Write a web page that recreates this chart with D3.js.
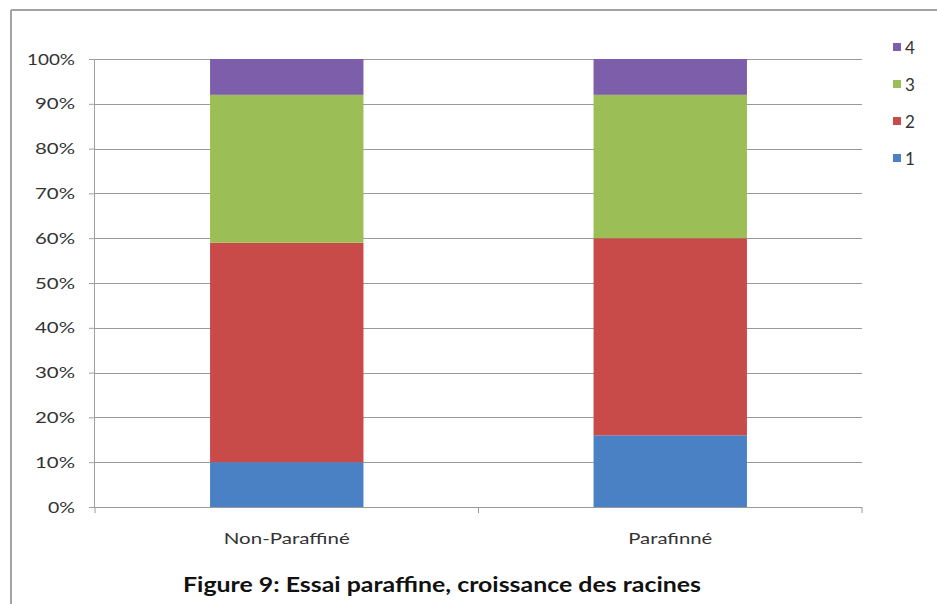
<!DOCTYPE html>
<html>
<head>
<meta charset="utf-8">
<script src="https://cdn.jsdelivr.net/npm/d3@7/dist/d3.min.js"></script>
<style>
  html, body { margin: 0; padding: 0; background: #fff; }
  svg { display: block; }
</style>
</head>
<body>
<svg id="chart" width="937" height="604"></svg>
<script>
// Root growth classes (1–4), share per treatment in percent
const categories = ["Non-Paraffiné", "Parafinné"];
const seriesNames = ["1", "2", "3", "4"];
const class1 = [10, 16];
const class2 = [49, 44];
const class3 = [33, 32];
const class4 = [8, 8];
const yTicks = [0, 10, 20, 30, 40, 50, 60, 70, 80, 90, 100];
const titleText = "Figure 9: Essai paraffine, croissance des racines";

const colors = ["#4A80C4", "#C84B4A", "#9BBE57", "#7D5EAA"];
const FONT = "Lato, 'Open Sans', sans-serif";

const svg = d3.select("#chart");
const W = 937, H = 604;
const margin = { left: 95, right: 75, top: 59, bottom: 97 };
const plotW = W - margin.left - margin.right;
const plotH = H - margin.top - margin.bottom;

// Outer frame (top and left edges visible)
svg.append("line").attr("x1", 11).attr("x2", W).attr("y1", 10).attr("y2", 10)
  .attr("stroke", "#a3a3a3").attr("stroke-width", 2);
svg.append("line").attr("x1", 11).attr("x2", 11).attr("y1", 10).attr("y2", H)
  .attr("stroke", "#a3a3a3").attr("stroke-width", 2);

const g = svg.append("g").attr("transform", `translate(${margin.left},${margin.top})`);

const rows = categories.map((c, i) => ({
  cat: c, "1": class1[i], "2": class2[i], "3": class3[i], "4": class4[i]
}));
const stacked = d3.stack().keys(seriesNames)(rows);

const x = d3.scaleBand().domain(categories).range([0, plotW]).paddingInner(0.6).paddingOuter(0.3);
const y = d3.scaleLinear().domain([0, 100]).range([plotH, 0]);

// Horizontal gridlines
g.append("g").selectAll("line").data(yTicks.filter(t => t > 0)).join("line")
  .attr("x1", 0).attr("x2", plotW)
  .attr("y1", d => Math.round(y(d)) + 0.5).attr("y2", d => Math.round(y(d)) + 0.5)
  .attr("stroke", "#999").attr("stroke-width", 1);

// Y axis
const yAxis = g.append("g")
  .call(d3.axisLeft(y).tickValues(yTicks).tickFormat(d => d + "%").tickSize(6).tickPadding(14));
yAxis.select(".domain").attr("stroke", "#a0a0a0").attr("d", `M-0.5,${plotH}V0`);
yAxis.selectAll(".tick line").attr("stroke", "#a0a0a0");
yAxis.selectAll(".tick text")
  .attr("font-family", FONT)
  .attr("font-size", 16).attr("fill", "#333")
  .attr("textLength", d => d === 100 ? 48 : d === 0 ? 27 : 40)
  .attr("lengthAdjust", "spacingAndGlyphs");

// Stacked bars
g.append("g").selectAll("g").data(stacked).join("g")
  .attr("fill", (d, i) => colors[i])
  .selectAll("rect").data(d => d).join("rect")
  .attr("x", d => x(d.data.cat))
  .attr("width", x.bandwidth())
  .attr("y", d => y(d[1]))
  .attr("height", d => y(d[0]) - y(d[1]));

// X axis with ticks between categories
const xAxisG = g.append("g").attr("transform", `translate(0,${plotH})`);
xAxisG.append("line").attr("x1", 0).attr("x2", plotW).attr("y1", 0.5).attr("y2", 0.5)
  .attr("stroke", "#9a9a9a");
[0, plotW / 2, plotW].forEach(t => {
  xAxisG.append("line").attr("x1", t).attr("x2", t).attr("y1", 0).attr("y2", 6)
    .attr("stroke", "#9a9a9a");
});
xAxisG.selectAll("text.cat").data(categories).join("text")
  .attr("class", "cat")
  .attr("x", d => x(d) + x.bandwidth() / 2)
  .attr("y", 37)
  .attr("text-anchor", "middle")
  .attr("font-family", FONT)
  .attr("font-size", 16).attr("fill", "#333")
  .attr("textLength", (d, i) => i === 0 ? 126 : 84)
  .attr("lengthAdjust", "spacingAndGlyphs")
  .text(d => d);

// Legend (top entry = last series)
const legend = svg.append("g");
const legendItems = seriesNames.slice().reverse();
legendItems.forEach((name, i) => {
  const cy = 47 + i * 37;
  legend.append("rect").attr("x", 893).attr("y", cy - 4).attr("width", 8).attr("height", 8)
    .attr("fill", colors[seriesNames.indexOf(name)]);
  legend.append("text").attr("x", 905).attr("y", cy + 6.5)
    .attr("font-family", FONT)
    .attr("font-size", 17).attr("fill", "#333")
    .text(name);
});

// Caption
svg.append("text")
  .attr("x", 442).attr("y", 592)
  .attr("text-anchor", "middle")
  .attr("font-family", FONT)
  .attr("font-weight", "bold")
  .attr("font-size", 20).attr("fill", "#111")
  .attr("textLength", 518).attr("lengthAdjust", "spacingAndGlyphs")
  .text(titleText);
</script>
</body>
</html>
